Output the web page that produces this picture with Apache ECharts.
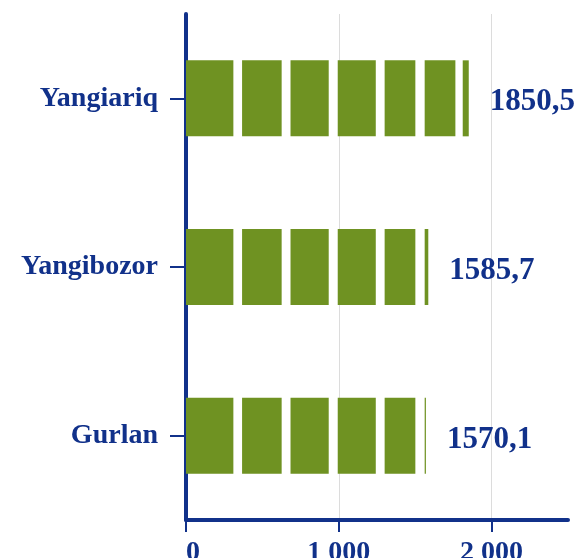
<!DOCTYPE html>
<html>
<head>
<meta charset="utf-8">
<script src="https://cdn.jsdelivr.net/npm/echarts@6/dist/echarts.min.js"></script>
<style>
  html, body { margin: 0; padding: 0; background: #fff; }
  #chart { width: 580px; height: 558px; }
</style>
</head>
<body>
<div id="chart"></div>
<script>
// data
var districts = ['Gurlan', 'Yangibozor', 'Yangiariq'];
var values = [1570.1, 1585.7, 1850.5];
var xTicks = [0, 1000, 2000];

// styling
var navy = '#11318a';
var green = '#6f9222';
var serif = '"Liberation Serif", "Times New Roman", serif';
// white breaks drawn across the bars (in axis units)
var breaks = [[310, 367], [626, 684], [934, 993], [1242, 1300], [1501, 1562], [1763, 1811]];

var chart = echarts.init(document.getElementById('chart'));

function fmtTick(v) {
  return String(v).replace(/\B(?=(\d{3})+(?!\d))/g, ' ');
}

chart.setOption({
  animation: false,
  grid: { left: 186, right: 12, top: 14, bottom: 38, containLabel: false, outerBoundsMode: 'none' },
  xAxis: {
    type: 'value',
    min: 0,
    max: 2500,
    interval: 1000,
    axisLine: { show: true, lineStyle: { color: navy, width: 4 } },
    axisTick: { show: true, length: 12, customValues: xTicks, lineStyle: { color: navy, width: 2 } },
    splitLine: {
      show: true,
      lineStyle: { color: ['#dcdcdc', '#dcdcdc', '#dcdcdc', 'rgba(0,0,0,0)'], width: 1 }
    },
    axisLabel: {
      margin: 19,
      color: navy,
      fontFamily: serif,
      fontWeight: 'bold',
      fontSize: 28,
      alignMinLabel: 'left',
      customValues: xTicks,
      formatter: fmtTick
    }
  },
  yAxis: {
    type: 'category',
    data: districts,
    axisLine: { show: true, lineStyle: { color: navy, width: 4 } },
    axisTick: { show: true, length: 16, alignWithLabel: true, lineStyle: { color: navy, width: 2 } },
    axisLabel: {
      margin: 28,
      color: navy,
      fontFamily: serif,
      fontWeight: 'bold',
      fontSize: 28,
      verticalAlign: 'middle',
      padding: [8, 0, 0, 0]
    }
  },
  series: [{
    type: 'custom',
    data: values.map(function (v, i) { return [v, i]; }),
    encode: { x: 0, y: 1 },
    renderItem: function (params, api) {
      var val = api.value(0);
      var idx = api.value(1);
      var h = 76;
      var pieces = [];
      var from = 0;
      breaks.forEach(function (b) {
        if (b[0] >= val) return;
        if (from < b[0]) pieces.push([from, b[0]]);
        from = Math.max(from, b[1]);
      });
      if (from < val) pieces.push([from, val]);
      var children = pieces.map(function (p) {
        var a = api.coord([p[0], idx]);
        var b = api.coord([p[1], idx]);
        return {
          type: 'rect',
          shape: { x: a[0], y: a[1] - h / 2, width: b[0] - a[0], height: h },
          style: { fill: green }
        };
      });
      var end = api.coord([val, idx]);
      children.push({
        type: 'text',
        x: end[0] + 21,
        y: end[1] + 4,
        style: {
          text: val.toFixed(1).replace('.', ','),
          fill: navy,
          font: 'bold 31px ' + serif,
          verticalAlign: 'middle',
          align: 'left'
        }
      });
      return { type: 'group', children: children };
    }
  }]
});
</script>
</body>
</html>
